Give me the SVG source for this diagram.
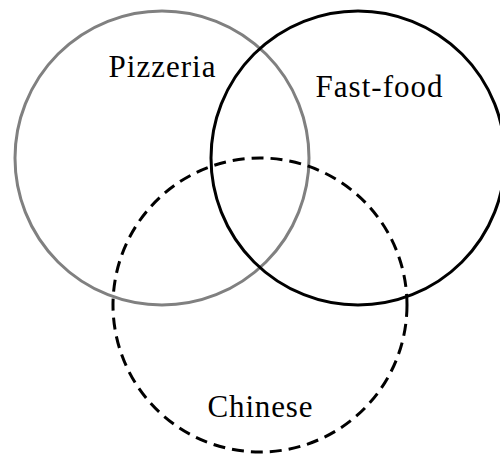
<svg xmlns="http://www.w3.org/2000/svg" width="500" height="455" viewBox="0 0 500 455">
<style>
.c{fill:none;stroke-width:3}
.t{font-family:"Liberation Serif","DejaVu Serif",serif;font-size:31px;fill:#000;text-anchor:middle}
</style>
<rect width="500" height="455" fill="#fff"/>
<g id="pizzeria">
<circle class="c" cx="162" cy="158" r="147" stroke="#808080"/>
<text class="t" x="162" y="77" textLength="107">Pizzeria</text>
</g>
<g id="fastfood">
<circle class="c" cx="358" cy="158" r="147" stroke="#000"/>
<text class="t" x="379" y="97" textLength="127">Fast-food</text>
</g>
<g id="chinese">
<circle class="c" cx="260" cy="305" r="147" stroke="#000" stroke-dasharray="12,7"/>
<text class="t" x="260" y="417" textLength="105">Chinese</text>
</g>
<g id="connectors"></g>
</svg>
